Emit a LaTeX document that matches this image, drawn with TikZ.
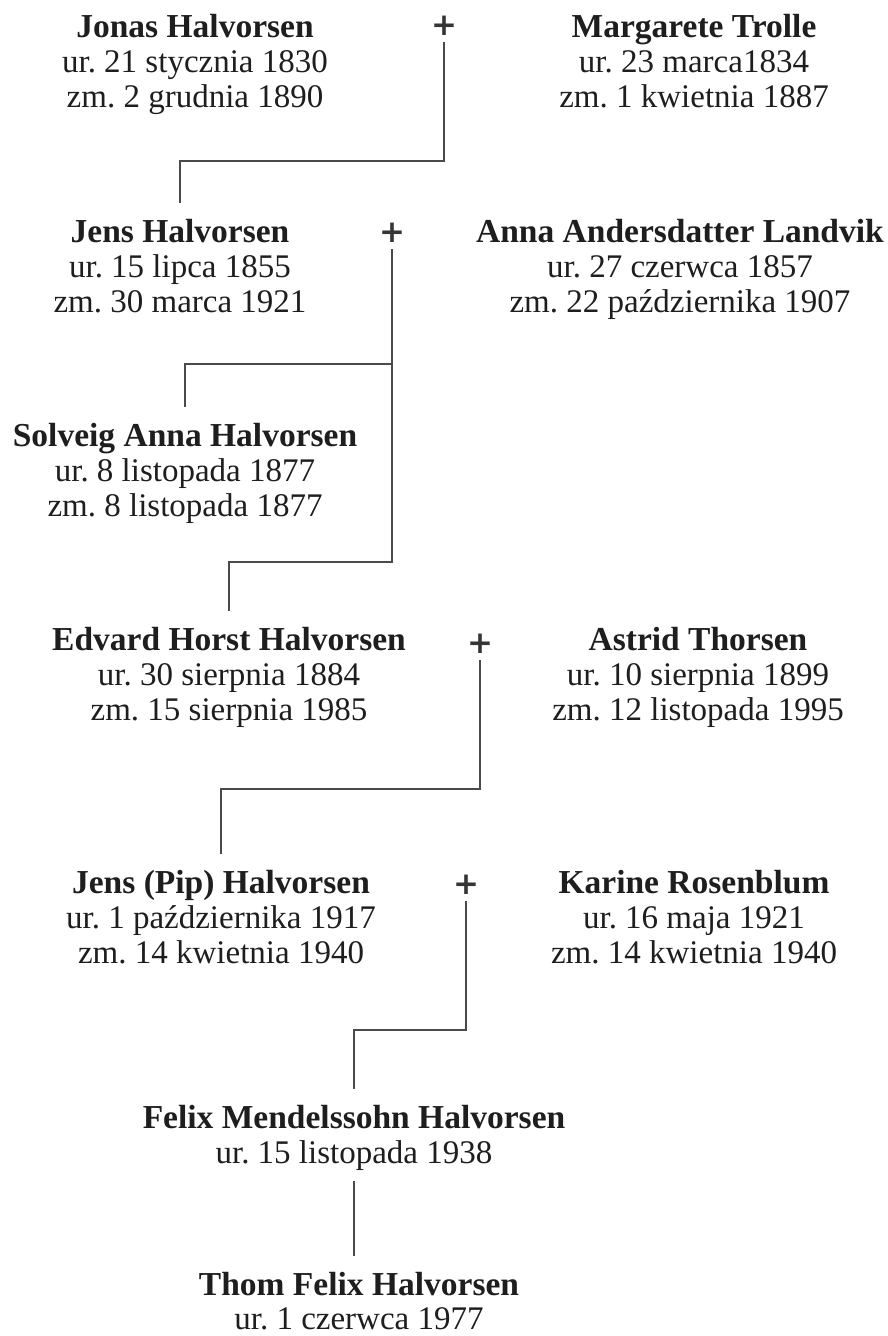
\documentclass[tikz,border=0pt]{standalone}
\usepackage{fontspec}
\setmainfont{Liberation Serif}
\newfontfamily\plusfam{DejaVu Sans}
\frenchspacing
\definecolor{txt}{HTML}{1E1E1E}
\definecolor{linec}{HTML}{4A4A4A}
\newcommand\namefont{\fontsize{33.5}{35}\selectfont\bfseries}
\newcommand\datefont{\fontsize{33}{35}\selectfont}
\newcommand\plusfont{\plusfam\fontsize{31}{31}\selectfont\bfseries}
\tikzset{
  nm/.style={font=\namefont, inner xsep=0pt, inner ysep=15pt, text height=24pt, text depth=7pt, anchor=base, text=txt},
  dt/.style={font=\datefont, inner xsep=0pt, inner ysep=11pt, text height=22pt, text depth=7pt, anchor=base, text=txt},
  plussign/.style={font=\plusfont, inner xsep=0pt, inner ysep=7pt, text height=20pt, text depth=0pt, anchor=base, text=txt!90},
  conn/.style={draw=linec, line width=1.6pt}
}
\begin{document}
\begin{tikzpicture}[x=1pt,y=-1pt]
\useasboundingbox[fill=white] (0,0) rectangle (888,1336);
% row 1
\node[nm] (jonas) at (195,37) {Jonas Halvorsen};
\node[dt] (jonasb) at (195,72) {ur. 21 stycznia 1830};
\node[dt] (jonasd) at (195,107) {zm. 2 grudnia 1890};
\node[plussign] (p1) at (444,35) {+};
\node[nm] (marg) at (694,37) {Margarete Trolle};
\node[dt] (margb) at (694,72) {ur. 23 marca1834};
\node[dt] (margd) at (694,107) {zm. 1 kwietnia 1887};
% row 2
\node[nm] (jens) at (180,242) {Jens Halvorsen};
\node[dt] (jensb) at (180,277) {ur. 15 lipca 1855};
\node[dt] (jensd) at (180,312) {zm. 30 marca 1921};
\node[plussign] (p2) at (392,242) {+};
\node[nm] (anna) at (680,242) {Anna Andersdatter Landvik};
\node[dt] (annab) at (680,277) {ur. 27 czerwca 1857};
\node[dt] (annad) at (680,312) {zm. 22 października 1907};
% row 3
\node[nm] (solveig) at (185,446) {Solveig Anna Halvorsen};
\node[dt] (solveigb) at (185,481) {ur. 8 listopada 1877};
\node[dt] (solveigd) at (185,516) {zm. 8 listopada 1877};
% row 4
\node[nm] (edvard) at (229,650) {Edvard Horst Halvorsen};
\node[dt] (edvardb) at (229,685) {ur. 30 sierpnia 1884};
\node[dt] (edvardd) at (229,720) {zm. 15 sierpnia 1985};
\node[plussign] (p4) at (480,653) {+};
\node[nm] (astrid) at (698,650) {Astrid Thorsen};
\node[dt] (astridb) at (698,685) {ur. 10 sierpnia 1899};
\node[dt] (astridd) at (698,720) {zm. 12 listopada 1995};
% row 5
\node[nm] (pip) at (221,893) {Jens (Pip) Halvorsen};
\node[dt] (pipb) at (221,928) {ur. 1 października 1917};
\node[dt] (pipd) at (221,963) {zm. 14 kwietnia 1940};
\node[plussign] (p5) at (466,894) {+};
\node[nm] (karine) at (694,893) {Karine Rosenblum};
\node[dt] (karineb) at (694,928) {ur. 16 maja 1921};
\node[dt] (karined) at (694,963) {zm. 14 kwietnia 1940};
% row 6
\node[nm] (felix) at (354,1128) {Felix Mendelssohn Halvorsen};
\node[dt] (felixb) at (354,1163) {ur. 15 listopada 1938};
% row 7
\node[nm] (thom) at (359,1295) {Thom Felix Halvorsen};
\node[dt] (thomb) at (359,1329) {ur. 1 czerwca 1977};
% junction levels
\coordinate (j1) at (0,161);
\coordinate (j2) at (0,364);
\coordinate (j3) at (0,562);
\coordinate (j4) at (0,789);
\coordinate (j5) at (0,1030);
% connectors
\draw[conn] (p1.south) -- (p1.south |- j1) -| (jens.north);
\draw[conn] (p2.south) -- (p2.south |- j3) -| (edvard.north);
\draw[conn] (p2.south |- j2) -| (solveig.north);
\draw[conn] (p4.south) -- (p4.south |- j4) -| (pip.north);
\draw[conn] (p5.south) -- (p5.south |- j5) -| (felix.north);
\draw[conn] (felixb.south) -- (felixb.south |- thom.north);
\end{tikzpicture}
\end{document}
